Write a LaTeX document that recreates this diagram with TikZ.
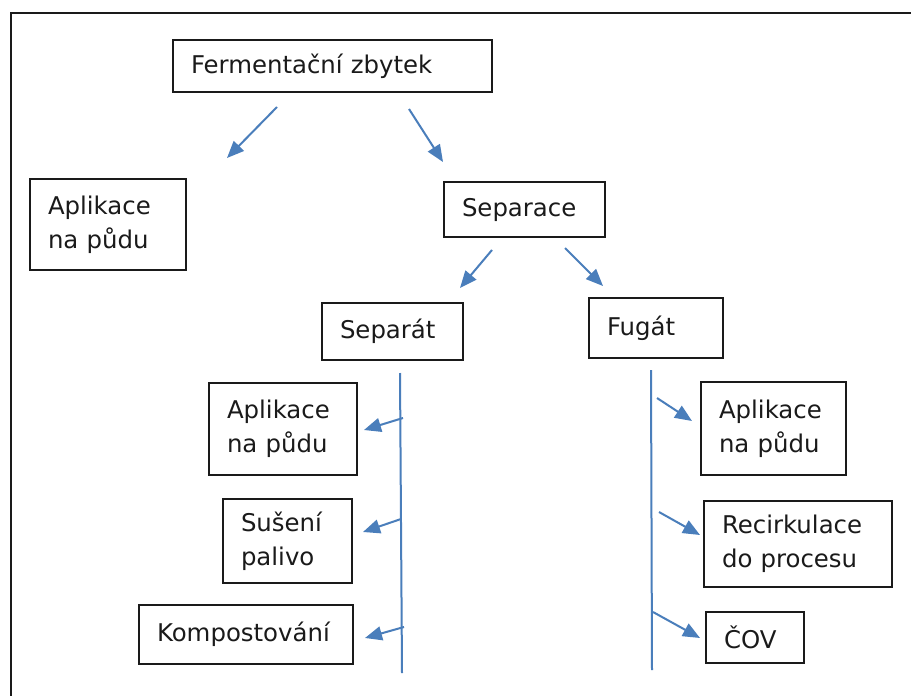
\documentclass[tikz,border=0pt]{standalone}
\usepackage{fontspec}
\setmainfont{DejaVu Sans}
\usetikzlibrary{arrows.meta}
\hyphenpenalty=10000
\exhyphenpenalty=10000
\definecolor{arr}{HTML}{4A7EBB}
\definecolor{ink}{HTML}{1A1A1A}
\begin{document}
\begin{tikzpicture}[x=1pt,y=-1pt,
  box/.style={draw=ink, line width=2pt, rectangle, inner xsep=18pt, inner ysep=0pt,
    align=left, text=ink, font=\fontsize{24.4}{34}\selectfont},
  arrline/.style={draw=arr, line width=2pt},
  arrow/.style={arrline, -{Triangle[length=17pt,width=14pt]}}]
\clip (0,0) rectangle (911,696);
\fill[white] (0,0) rectangle (911,696);
\draw[ink, line width=2.6pt] (11,13) rectangle (940,720);

% boxes
\node[box, text width=283pt, minimum height=52pt] (ferm) at (332.5,66) {Fermentační zbytek};
\node[box, text width=120pt, minimum height=91pt] (apl1) at (108,224.5) {Aplikace\\na půdu};
\node[box, text width=125pt, minimum height=55pt] (sep) at (524.5,209.5) {Separace};
\node[box, text width=105pt, minimum height=57pt] (separat) at (392.5,331.5) {Separát};
\node[box, text width=98pt, minimum height=60pt] (fugat) at (656,328) {Fugát};
\node[box, text width=112pt, minimum height=92pt] (apl2) at (283,429) {Aplikace\\na půdu};
\node[box, text width=93pt, minimum height=84pt] (sus) at (287.5,541) {Sušení\\palivo};
\node[box, text width=178pt, minimum height=59pt] (komp) at (246,634.5) {Kompostování};
\node[box, text width=109pt, minimum height=93pt] (apl3) at (773.5,428.5) {Aplikace\\na půdu};
\node[box, text width=152pt, minimum height=86pt] (rec) at (798,544) {Recirkulace\\do procesu};
\node[box, text width=62pt, minimum height=51pt] (cov) at (755,637.5) {ČOV};

% coordinates for connectors
\coordinate (a1s) at (277,107); \coordinate (a1e) at (227,158);
\coordinate (a2s) at (409,109); \coordinate (a2e) at (443,162);
\coordinate (a3s) at (492,250); \coordinate (a3e) at (460,288);
\coordinate (a4s) at (565,248); \coordinate (a4e) at (603,286);
\coordinate (vlt) at (400,373); \coordinate (vlb) at (402,673);
\coordinate (l1s) at (403,418); \coordinate (l1e) at (364,430);
\coordinate (l2s) at (401,519); \coordinate (l2e) at (363,532);
\coordinate (l3s) at (404,627); \coordinate (l3e) at (365,638);
\coordinate (vrt) at (651,370); \coordinate (vrb) at (652,670);
\coordinate (r1s) at (657,398); \coordinate (r1e) at (692,421);
\coordinate (r2s) at (659,512); \coordinate (r2e) at (700,535);
\coordinate (r3s) at (653,612); \coordinate (r3e) at (700,638);

\draw[arrow] (a1s) -- (a1e);
\draw[arrow] (a2s) -- (a2e);
\draw[arrow] (a3s) -- (a3e);
\draw[arrow] (a4s) -- (a4e);
\draw[arrline] (vlt) -- (vlb);
\draw[arrow] (l1s) -- (l1e);
\draw[arrow] (l2s) -- (l2e);
\draw[arrow] (l3s) -- (l3e);
\draw[arrline] (vrt) -- (vrb);
\draw[arrow] (r1s) -- (r1e);
\draw[arrow] (r2s) -- (r2e);
\draw[arrow] (r3s) -- (r3e);
\end{tikzpicture}
\end{document}
